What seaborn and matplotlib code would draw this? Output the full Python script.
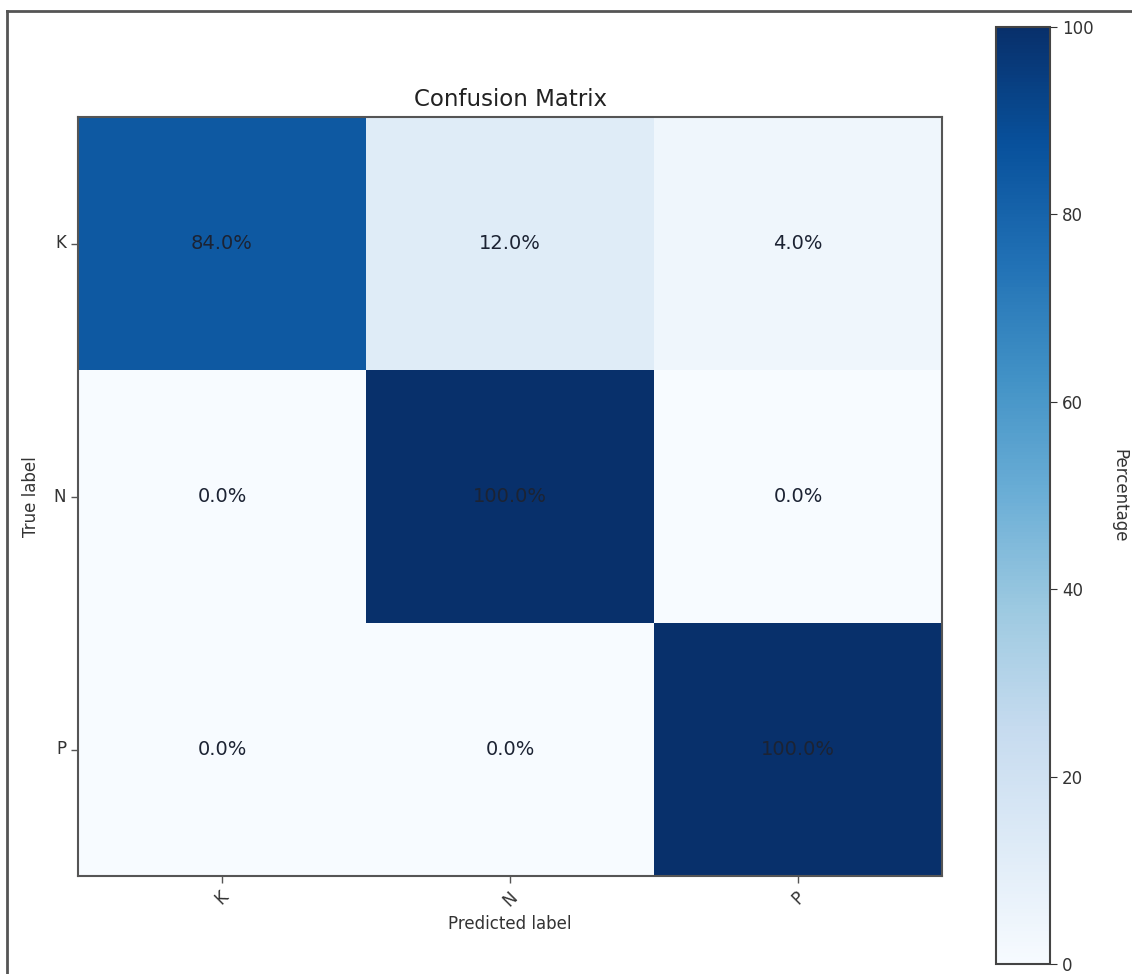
import matplotlib
matplotlib.use("Agg")
import matplotlib.pyplot as plt
from matplotlib.lines import Line2D
import numpy as np
import pandas as pd
import seaborn as sns

classes = ["K", "N", "P"]
row_K = [84.0, 12.0, 4.0]
row_N = [0.0, 100.0, 0.0]
row_P = [0.0, 0.0, 100.0]
cbar_ticks = [0, 20, 40, 60, 80, 100]

df = pd.DataFrame([row_K, row_N, row_P], index=classes, columns=classes)
labels = df.map(lambda v: f"{v:.1f}%")

W, H = 1132, 974
fig = plt.figure(figsize=(W / 100, H / 100), dpi=100)
ax = fig.add_axes([78 / W, 1 - 876 / H, (942 - 78) / W, (876 - 117) / H])
cax = fig.add_axes([996 / W, 1 - 964 / H, (1050 - 996) / W, (964 - 27) / H])

sns.heatmap(df, ax=ax, cbar_ax=cax, cmap="Blues", vmin=0, vmax=100,
            annot=labels, fmt="", square=False,
            annot_kws={"fontsize": 14, "color": "#1c2333"},
            cbar_kws={"ticks": cbar_ticks})

tick_color = "#333333"
ax.set_title("Confusion Matrix", fontsize=16.5, color="#222222", pad=8)
ax.set_xlabel("Predicted label", fontsize=12, color="#333333")
ax.set_ylabel("True label", fontsize=12, color="#333333", labelpad=10)
ax.set_xticklabels(classes, rotation=45, ha="center", fontsize=12, color=tick_color)
ax.set_yticklabels(classes, rotation=0, fontsize=12, color=tick_color)
ax.tick_params(length=5, width=1, color="#555555")
for s in ax.spines.values():
    s.set_visible(True)
    s.set_color("#555555")
    s.set_linewidth(1.5)

cb = ax.collections[0].colorbar
cb.outline.set_visible(True)
cb.outline.set_edgecolor("#444444")
cb.outline.set_linewidth(1.5)
cax.tick_params(labelsize=12, length=5, colors="#333333")
cb.set_label("Percentage", rotation=270, labelpad=25, fontsize=12, color="#333333")

# outer border of the screenshot
fig.add_artist(Line2D([7 / W, 7 / W], [0, 1 - 11 / H], transform=fig.transFigure,
                      color="#555555", lw=2))
fig.add_artist(Line2D([7 / W, 1], [1 - 11 / H, 1 - 11 / H], transform=fig.transFigure,
                      color="#555555", lw=2))

fig.savefig("out.png", dpi=100)
